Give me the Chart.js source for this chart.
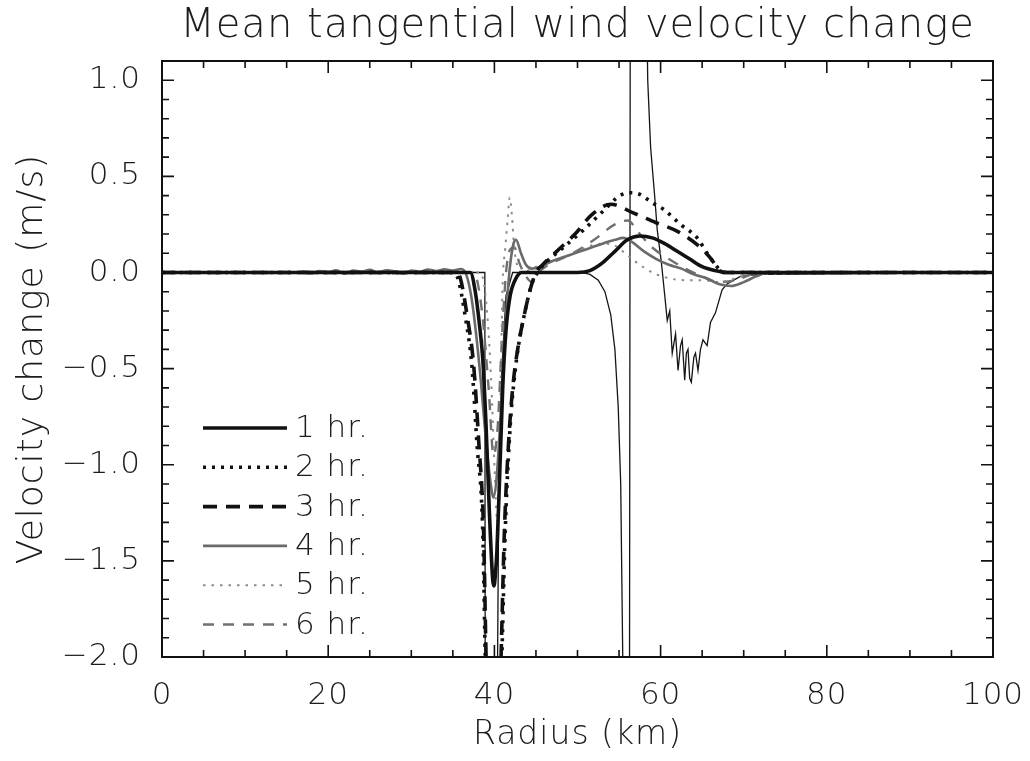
<!DOCTYPE html>
<html>
<head>
<meta charset="utf-8">
<script src="https://cdn.jsdelivr.net/npm/chart.js@4.4.1/dist/chart.umd.min.js"></script>
<style>
  html, body { margin: 0; padding: 0; background: #fff; }
  #wrap { width: 1030px; height: 761px; }
</style>
</head>
<body>
<div id="wrap"><canvas id="chart" width="1030" height="761"></canvas></div>
<script>
// axis ticks
const xTickValues = [0, 20, 40, 60, 80, 100];
const xTickLabels = ['0', '20', '40', '60', '80', '100'];
const yTickValues = [-2.0, -1.5, -1.0, -0.5, 0.0, 0.5, 1.0];
const yTickLabels = ['\u22122.0', '\u22121.5', '\u22121.0', '\u22120.5', '0.0', '0.5', '1.0'];

// 1 hr
const radius1 = [0, 37.1, 37.7, 38.2, 38.6, 39.0, 39.4, 39.8, 39.95, 40.1, 40.3, 40.6, 41.0, 41.4, 41.9, 42.6, 43.3,
  50.0, 51.5, 53.0, 54.5, 56.0, 57.5, 59.0, 60.5, 62.0, 63.5, 65.0, 66.5, 68.0, 100];
const vel1 = [0, 0, -0.1, -0.27, -0.45, -0.8, -1.25, -1.6, -1.63, -1.58, -1.45, -1.1, -0.6, -0.3, -0.12, -0.03, 0,
  0, 0.01, 0.05, 0.11, 0.17, 0.19, 0.18, 0.15, 0.11, 0.07, 0.03, 0.01, 0, 0];

// 2 hr
const radius2 = [0, 35.0, 35.6, 36.5, 37.3, 37.9, 38.6, 38.9, 39.3, 40.5, 40.9, 41.3, 41.9, 42.4, 42.9, 43.7, 44.5, 45.2,
  45.7, 48.3, 50.7, 53.1, 55.1, 56.3, 57.3, 59.1, 60.3, 62.4, 64.4, 65.6, 66.6, 67.6, 100];
const vel2 = [0, 0, -0.03, -0.23, -0.49, -0.89, -1.35, -2.0, -2.6, -2.6, -2.0, -1.35, -0.8, -0.55, -0.38, -0.2, -0.06, 0.0,
  0.03, 0.13, 0.22, 0.32, 0.4, 0.415, 0.41, 0.36, 0.33, 0.25, 0.18, 0.1, 0.04, 0, 0];

// 3 hr
const radius3 = [0, 35.3, 35.9, 36.7, 37.5, 38.1, 38.7, 39.0, 39.4, 40.4, 40.8, 41.2, 41.8, 42.3, 42.8, 43.6, 44.3, 45.0,
  45.8, 47.5, 49.7, 51.7, 54.0, 56.7, 59.4, 62.2, 64.8, 66.1, 66.9, 67.6, 100];
const vel3 = [0, 0, -0.03, -0.22, -0.48, -0.87, -1.35, -2.0, -2.6, -2.6, -2.0, -1.35, -0.82, -0.56, -0.4, -0.22, -0.09, 0.0,
  0.04, 0.11, 0.2, 0.3, 0.355, 0.31, 0.26, 0.21, 0.13, 0.07, 0.02, 0, 0];

// 4 hr
const radius4 = [0, 16, 17, 18, 19, 20, 21, 22, 23, 24, 25, 26, 27, 28, 29, 30, 31, 32, 33, 34, 35, 36,
  36.6, 37.2, 37.8, 38.4, 39.0, 39.5, 39.9, 40.3, 40.8, 41.3, 41.8, 42.3, 42.6, 43.2, 43.8, 44.5,
  45.5, 47.0, 49.0, 51.0, 53.0, 54.5, 55.5, 56.5, 58.0, 59.5, 61.0, 62.5, 64.0, 65.5, 67.0, 68.5, 70.0, 71.5, 73.0, 100];
const vel4 = [0, 0, 0.005, -0.004, 0.008, 0.002, 0.012, -0.006, 0.01, 0.004, 0.014, 0.0, 0.012, 0.006, -0.005, 0.01,
  0.004, 0.015, 0.008, 0.016, 0.01, 0.018,
  -0.01, -0.12, -0.32, -0.58, -0.88, -1.08, -1.17, -1.05, -0.7, -0.3, 0.0, 0.15, 0.17, 0.1, 0.04, 0.02,
  0.03, 0.06, 0.09, 0.12, 0.15, 0.17, 0.18, 0.16, 0.11, 0.07, 0.04, 0.02, -0.01, -0.03, -0.06, -0.07, -0.05, -0.02, 0, 0];

// 5 hr
const radius5 = [0, 38.3, 39.0, 39.6, 40.0, 40.35, 40.7, 41.0, 41.3, 41.6, 41.85, 42.1, 42.4, 42.8, 43.3,
  45.0, 47.0, 49.0, 51.0, 53.0, 54.5, 56.0, 57.5, 59.0, 61.0, 63.0, 65.0, 67.0, 69.0, 71.0, 100];
const vel5 = [0, 0, -0.15, -0.55, -1.0, -1.3, -0.7, -0.05, 0.12, 0.28, 0.39, 0.3, 0.12, 0.03, 0.0,
  0.03, 0.06, 0.09, 0.13, 0.15, 0.14, 0.09, 0.04, 0.0, -0.03, -0.04, -0.04, -0.05, -0.03, -0.01, 0];

// 6 hr
const radius6 = [0, 37.5, 38.5, 39.3, 39.9, 40.4, 40.9, 41.4, 41.9, 42.4, 43.0, 43.8, 44.5, 45.3,
  46.5, 49.0, 52.0, 54.5, 56.0, 57.5, 59.0, 61.0, 63.0, 65.0, 67.0, 69.0, 71.0, 73.0, 100];
const vel6 = [0, 0, -0.2, -0.6, -0.95, -0.8, -0.35, 0.0, 0.12, 0.13, 0.05, -0.02, -0.05, 0.0,
  0.04, 0.09, 0.17, 0.25, 0.27, 0.2, 0.13, 0.07, 0.02, -0.02, -0.05, -0.04, -0.01, 0, 0];

// thin black trace (not in legend)
const radiusThin = [0, 38.85, 38.9, 40.3, 40.5, 40.9, 41.4, 42.2, 50.5, 51.5, 52.5, 53.3, 54.0, 54.5, 54.9, 55.2, 55.5,
  56.25, 56.35, 58.3, 58.45, 58.8, 59.3, 59.6, 60.1, 60.5, 60.8, 61.1, 61.4, 61.8, 62.1, 62.4, 62.6, 62.9, 63.1,
  63.3, 63.5, 63.7, 64.0, 64.2, 64.5, 64.8, 65.1, 65.6, 66.0, 66.6, 67.4, 68.0, 68.8, 69.6, 72.0, 100];
const velThin = [0, 0, -2.5, -2.5, -1.3, -0.5, -0.12, 0, 0, -0.01, -0.04, -0.1, -0.22, -0.4, -0.7, -1.1, -2.2,
  -2.5, 1.5, 1.5, 1.0, 0.65, 0.39, 0.22, 0.05, -0.12, -0.25, -0.2, -0.42, -0.32, -0.51, -0.38, -0.35, -0.56, -0.42,
  -0.4, -0.55, -0.57, -0.44, -0.42, -0.51, -0.4, -0.35, -0.38, -0.26, -0.21, -0.09, -0.06, -0.04, -0.02, -0.01, 0];

const fontFamily = "'DejaVu Sans', 'Liberation Sans', sans-serif";
const textColor = '#1c1c1c';
const letterGap = '1px';

function pts(rs, vs) {
    return rs.map((r, i) => ({ x: r, y: vs[i] }));
}

function series(label, rs, vs, color, width, dash, smooth) {
    return {
        label: label,
        data: pts(rs, vs),
        borderColor: color,
        borderWidth: width,
        borderDash: dash,
        borderCapStyle: 'butt',
        pointRadius: 0,
        fill: false,
        clip: 0,
        tension: smooth ? 0.4 : 0,
        cubicInterpolationMode: smooth ? 'monotone' : 'default'
    };
}

// slightly wider letter spacing like the plotter font of the original
const spacingPlugin = {
    id: 'spacing',
    beforeLayout(chart) { chart.ctx.letterSpacing = letterGap; },
    beforeDraw(chart) { chart.ctx.letterSpacing = letterGap; }
};

// box with inward ticks on all four sides
const framePlugin = {
    id: 'frame',
    afterDraw(chart, args, opts) {
        const { ctx, chartArea: a } = chart;
        const xs = chart.scales.x, ys = chart.scales.y;
        ctx.save();
        ctx.strokeStyle = '#111';
        ctx.lineWidth = 1.6;
        ctx.beginPath();
        const tick = (x1, y1, x2, y2) => { ctx.moveTo(x1, y1); ctx.lineTo(x2, y2); };
        for (let v = 0; v <= 100; v += 5) {
            const len = v % 20 === 0 ? opts.major : opts.minor;
            const px = xs.getPixelForValue(v);
            tick(px, a.bottom, px, a.bottom - len);
            tick(px, a.top, px, a.top + len);
        }
        for (let k = -20; k <= 11; k++) {
            const len = k % 5 === 0 ? opts.major : opts.minor;
            const py = ys.getPixelForValue(k / 10);
            tick(a.left, py, a.left + len, py);
            tick(a.right, py, a.right - len, py);
        }
        ctx.stroke();
        ctx.lineWidth = 2;
        ctx.strokeRect(a.left, a.top, a.right - a.left, a.bottom - a.top);
        ctx.restore();
    }
};

// legend drawn inside the plot area, lower left
const legendPlugin = {
    id: 'insideLegend',
    afterDraw(chart, args, opts) {
        const { ctx, chartArea: a } = chart;
        ctx.save();
        ctx.letterSpacing = letterGap;
        ctx.font = `${opts.weight} ${opts.size}px ${fontFamily}`;
        ctx.textBaseline = 'middle';
        ctx.textAlign = 'left';
        let row = 0;
        chart.data.datasets.forEach(ds => {
            if (!ds.label) return;
            const y = a.top + opts.y + row * opts.rowGap;
            const x0 = a.left + opts.x;
            ctx.strokeStyle = ds.borderColor;
            ctx.lineWidth = ds.borderWidth;
            ctx.setLineDash(ds.borderDash || []);
            ctx.lineCap = 'butt';
            ctx.beginPath();
            ctx.moveTo(x0, y);
            ctx.lineTo(x0 + opts.lineLen, y);
            ctx.stroke();
            ctx.setLineDash([]);
            ctx.fillStyle = textColor;
            ctx.fillText(ds.label, x0 + opts.lineLen + opts.textGap, y + 1);
            row++;
        });
        ctx.restore();
    }
};

const datasets = [
    series('1 hr.', radius1, vel1, '#111111', 3.6, [], true),
    series('2 hr.', radius2, vel2, '#111111', 3.6, [3, 6], true),
    series('3 hr.', radius3, vel3, '#111111', 3.6, [14, 9], true),
    series('4 hr.', radius4, vel4, '#6a6a6a', 2.6, [], true),
    series('5 hr.', radius5, vel5, '#8c8c8c', 2, [2.5, 6], true),
    series('6 hr.', radius6, vel6, '#707070', 2.4, [11, 9], true),
    series('', radiusThin, velThin, '#151515', 1.3, [], false)
];

const tickFont = { family: fontFamily, size: 31, weight: 200 };

new Chart(document.getElementById('chart'), {
    type: 'line',
    data: { datasets },
    plugins: [spacingPlugin, framePlugin, legendPlugin],
    options: {
        responsive: false,
        animation: false,
        layout: { padding: { left: 0, right: 37, top: 0, bottom: 0 } },
        plugins: {
            legend: { display: false },
            tooltip: { enabled: false },
            title: {
                display: true,
                fullSize: false,
                text: 'Mean tangential wind velocity change',
                color: textColor,
                font: { family: fontFamily, size: 40, weight: 200 },
                padding: { top: 3, bottom: 10 }
            },
            frame: { major: 12, minor: 7 },
            insideLegend: { x: 41, y: 367, rowGap: 39.3, lineLen: 84, textGap: 8, size: 31, weight: 200 }
        },
        scales: {
            x: {
                type: 'linear',
                min: 0,
                max: 100,
                afterBuildTicks: s => { s.ticks = xTickValues.map(v => ({ value: v })); },
                afterFit: s => { s.height = 104; s.paddingLeft = 0; s.paddingRight = 0; },
                ticks: {
                    callback: (v, i) => xTickLabels[i],
                    color: textColor,
                    font: tickFont,
                    padding: 20,
                    maxRotation: 0,
                    autoSkip: false
                },
                grid: { display: false, drawTicks: false },
                border: { display: false },
                title: {
                    display: true,
                    text: 'Radius (km)',
                    color: textColor,
                    font: { family: fontFamily, size: 33, weight: 200 },
                    padding: { top: 0, bottom: 6 }
                }
            },
            y: {
                type: 'linear',
                min: -2,
                max: 1.1,
                afterBuildTicks: s => { s.ticks = yTickValues.map(v => ({ value: v })); },
                afterFit: s => { s.width = 162; s.paddingTop = 0; s.paddingBottom = 0; },
                ticks: {
                    callback: (v, i) => yTickLabels[i],
                    color: textColor,
                    font: tickFont,
                    padding: 21,
                    autoSkip: false
                },
                grid: { display: false, drawTicks: false },
                border: { display: false },
                title: {
                    display: true,
                    text: 'Velocity change (m/s)',
                    color: textColor,
                    font: { family: fontFamily, size: 36, weight: 200 },
                    padding: { top: 11, bottom: 0 }
                }
            }
        }
    }
});
</script>
</body>
</html>
